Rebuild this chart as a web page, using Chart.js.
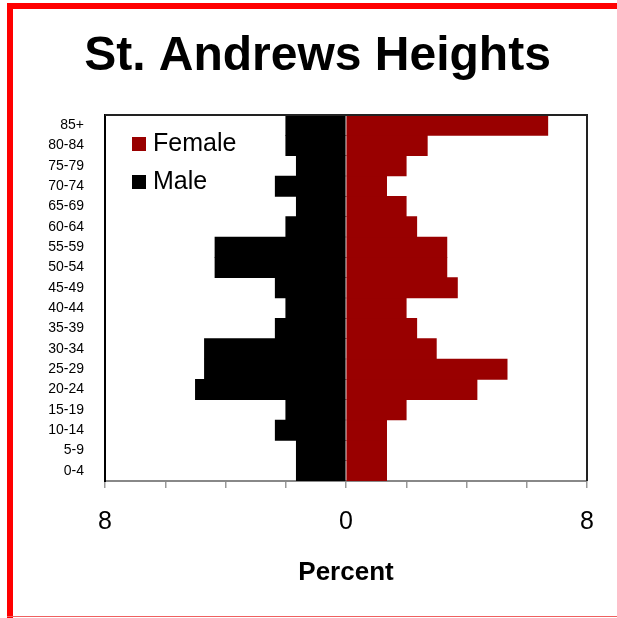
<!DOCTYPE html>
<html>
<head>
<meta charset="utf-8">
<script src="https://cdn.jsdelivr.net/npm/chart.js@4.4.1/dist/chart.umd.min.js"></script>
<style>
  html, body { margin: 0; padding: 0; background: #fff; overflow: hidden; }
  #wrap { position: relative; width: 617px; height: 618px; }
  #c { position: absolute; left: 0; top: 0; }
  .rb { position: absolute; background: #ff0000; z-index: 2; }
</style>
</head>
<body>
<div id="wrap">
  <canvas id="c" width="617" height="618"></canvas>
  <div class="rb" style="left:7px;top:3px;width:610px;height:6px;"></div>
  <div class="rb" style="left:7px;top:3px;width:6px;height:615px;"></div>
  <div class="rb" style="left:7px;top:616px;width:610px;height:1px;background:#f06060;"></div>
</div>
<script>
// ---- data ----
const ageGroups = ['0-4','5-9','10-14','15-19','20-24','25-29','30-34','35-39','40-44',
                   '45-49','50-54','55-59','60-64','65-69','70-74','75-79','80-84','85+'];
const femalePct = [1.35,1.35,1.35,2.0,4.35,5.35,3.0,2.35,2.0,3.7,3.35,3.35,2.35,2.0,1.35,2.0,2.7,6.7];
const malePct   = [1.65,1.65,2.35,2.0,5.0,4.7,4.7,2.35,2.0,2.35,4.35,4.35,2.0,1.65,2.35,1.65,2.0,2.0];
const labeledTicks = [-8, 0, 8];
const chartTitle = 'St. Andrews Heights';
const axisTitle = 'Percent';

const FONT = "'Liberation Sans', Arial, Helvetica, sans-serif";

const frameLines = {
  id: 'frameLines',
  afterDatasetsDraw(chart) {
    const {ctx, chartArea: a} = chart;
    ctx.save();
    ctx.strokeStyle = '#222';
    ctx.lineWidth = 2;
    ctx.beginPath();
    ctx.moveTo(a.left, a.top);
    ctx.lineTo(a.right, a.top);
    ctx.lineTo(a.right, a.bottom);
    ctx.stroke();
    ctx.restore();
  }
};

const innerLegend = {
  id: 'innerLegend',
  afterDraw(chart) {
    const {ctx, chartArea: a} = chart;
    const order = [1, 0]; // Female, Male
    ctx.save();
    ctx.font = '25px ' + FONT;
    ctx.textBaseline = 'middle';
    ctx.textAlign = 'left';
    order.forEach((di, i) => {
      const ds = chart.data.datasets[di];
      const y = a.top + 22 + i * 38;
      ctx.fillStyle = ds.backgroundColor;
      ctx.fillRect(a.left + 27, y, 14, 14);
      ctx.fillStyle = '#000';
      ctx.fillText(ds.label, a.left + 48, y + 7);
    });
    ctx.restore();
  }
};

new Chart(document.getElementById('c'), {
  type: 'bar',
  data: {
    labels: ageGroups,
    datasets: [
      { label: 'Male', data: malePct.map(v => -v), backgroundColor: '#000000',
        barPercentage: 1, categoryPercentage: 1, borderWidth: 0 },
      { label: 'Female', data: femalePct, backgroundColor: '#990000',
        barPercentage: 1, categoryPercentage: 1, borderWidth: 0 }
    ]
  },
  options: {
    indexAxis: 'y',
    responsive: false,
    animation: false,
    devicePixelRatio: 1,
    layout: { padding: { left: 48, right: 30, top: 0, bottom: 0 } },
    plugins: {
      legend: { display: false },
      tooltip: { enabled: false },
      title: {
        display: true,
        text: chartTitle,
        color: '#000',
        font: { family: FONT, size: 48, weight: 'bold' },
        padding: { top: 28, bottom: 29.4 }
      }
    },
    scales: {
      x: {
        stacked: true,
        min: -8, max: 8,
        afterFit: s => { s.height = 137; },
        ticks: {
          stepSize: 2,
          autoSkip: false,
          maxRotation: 0,
          padding: 19.5,
          color: '#000',
          font: { family: FONT, size: 25 },
          callback: v => labeledTicks.includes(v) ? String(Math.abs(v)) : ''
        },
        grid: { display: true, drawOnChartArea: false, drawTicks: true, tickLength: 7,
                color: '#999', lineWidth: 1.5 },
        border: { display: true, color: '#888', width: 2 },
        title: {
          display: true, text: axisTitle, color: '#000',
          font: { family: FONT, size: 26, weight: 'bold' },
          padding: { top: 0, bottom: 30 }
        }
      },
      y: {
        stacked: true,
        reverse: true,
        afterFit: s => { s.width = 57; },
        ticks: { padding: 21, color: '#000', font: { family: FONT, size: 14 }, autoSkip: false },
        grid: { display: false, drawTicks: false },
        border: { display: true, color: '#000', width: 2 }
      }
    }
  },
  plugins: [frameLines, innerLegend]
});
</script>
</body>
</html>
